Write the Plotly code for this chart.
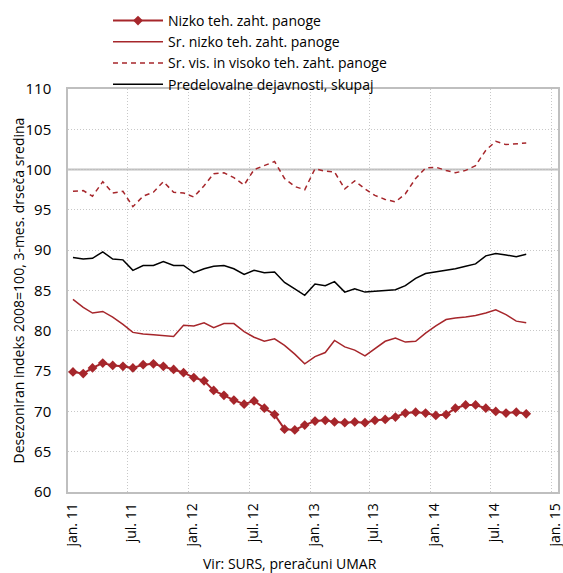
import pandas as pd
import plotly.graph_objects as go

# Monthly data, jan 2011 - okt 2014 (3-month moving average, seasonally adjusted, 2008=100)
months = pd.date_range("2011-01-01", periods=46, freq="MS") + pd.Timedelta(days=15)

nizko = [74.9, 74.7, 75.4, 76.0, 75.7, 75.6, 75.4, 75.8, 75.9, 75.6, 75.2, 74.8,
         74.2, 73.8, 72.6, 72.0, 71.4, 70.9, 71.3, 70.4, 69.6, 67.8, 67.7, 68.3,
         68.8, 68.9, 68.7, 68.6, 68.7, 68.6, 68.9, 69.0, 69.3, 69.8, 69.9, 69.8,
         69.5, 69.6, 70.4, 70.8, 70.8, 70.4, 70.0, 69.8, 69.9, 69.7]

sr_nizko = [83.9, 82.9, 82.2, 82.4, 81.7, 80.8, 79.8, 79.6, 79.5, 79.4, 79.3, 80.7,
            80.6, 81.0, 80.4, 80.9, 80.9, 79.9, 79.2, 78.7, 79.0, 78.2, 77.1, 75.9,
            76.8, 77.3, 78.8, 78.0, 77.6, 76.9, 77.8, 78.7, 79.1, 78.6, 78.7, 79.7,
            80.6, 81.4, 81.6, 81.7, 81.9, 82.2, 82.6, 82.0, 81.2, 81.0]

sr_visoko = [97.3, 97.4, 96.7, 98.5, 97.1, 97.3, 95.4, 96.7, 97.2, 98.5, 97.2, 97.1,
             96.6, 98.0, 99.5, 99.6, 99.0, 98.1, 100.0, 100.5, 101.0, 98.9, 97.9, 97.5,
             100.1, 99.8, 99.7, 97.6, 98.6, 97.6, 96.8, 96.3, 96.0, 97.0, 98.9, 100.2,
             100.3, 99.9, 99.6, 99.9, 100.5, 102.4, 103.5, 103.1, 103.2, 103.3]

predel = [89.1, 88.9, 89.0, 89.8, 88.9, 88.8, 87.5, 88.1, 88.1, 88.6, 88.1, 88.1,
          87.2, 87.7, 88.0, 88.1, 87.7, 87.0, 87.5, 87.2, 87.3, 86.0, 85.2, 84.4,
          85.8, 85.6, 86.1, 84.8, 85.2, 84.8, 84.9, 85.0, 85.1, 85.6, 86.5, 87.1,
          87.3, 87.5, 87.7, 88.0, 88.3, 89.3, 89.6, 89.4, 89.2, 89.5]

tick_vals = pd.date_range("2011-01-01", "2015-01-01", freq="6MS")
tick_text = ["jan. 11", "jul. 11", "jan. 12", "jul. 12", "jan. 13",
             "jul. 13", "jan. 14", "jul. 14", "jan. 15"]

names = ["Nizko teh. zaht. panoge", "Sr. nizko teh. zaht. panoge",
         "Sr. vis. in visoko teh. zaht. panoge", "Predelovalne dejavnosti, skupaj"]

RED = "#a6262b"
FONT = "Open Sans"

fig = go.Figure()
fig.add_trace(go.Scatter(x=months, y=nizko, name=names[0], mode="lines+markers",
                         line=dict(color=RED, width=2),
                         marker=dict(symbol="diamond", size=7.5, color=RED)))
fig.add_trace(go.Scatter(x=months, y=sr_nizko, name=names[1], mode="lines",
                         line=dict(color=RED, width=1.5)))
fig.add_trace(go.Scatter(x=months, y=sr_visoko, name=names[2], mode="lines",
                         line=dict(color=RED, width=1.5, dash="5px,4px")))
fig.add_trace(go.Scatter(x=months, y=predel, name=names[3], mode="lines",
                         line=dict(color="black", width=1.5)))

fig.add_shape(type="line", xref="paper", x0=0, x1=1, yref="y", y0=100, y1=100,
              line=dict(color="#bfbfbf", width=2), layer="below")

PH = 573 - 89 - 81
PW = 563 - 68 - 5

fig.update_layout(
    width=563, height=573,
    margin=dict(l=68, r=5, t=89, b=81, autoexpand=False),
    paper_bgcolor="white", plot_bgcolor="white",
    font=dict(family=FONT, size=14, color="black"),
    showlegend=True,
    legend=dict(xref="container", yref="container",
                x=108 / 563, xanchor="left", y=1 - 5 / 573, yanchor="top",
                bgcolor="rgba(0,0,0,0)", font=dict(size=14),
                itemwidth=50, tracegroupgap=0),
    xaxis=dict(range=["2011-01-01", "2015-01-20"], tickvals=tick_vals, ticktext=tick_text,
               tickangle=-90, showgrid=True, gridcolor="#c8c8c8", griddash="1px,2px",
               showline=True, linecolor="#bfbfbf", linewidth=1.5, mirror=True,
               ticks="outside", ticklen=4, tickcolor="rgba(0,0,0,0)", ticklabelshift=4,
               ticklabeloverflow="allow", tickfont=dict(size=14), zeroline=False),
    yaxis=dict(range=[60, 110], dtick=5, showgrid=True, gridcolor="#c8c8c8",
               griddash="1px,2px", showline=True, linecolor="#bfbfbf", linewidth=1.5,
               mirror=True, ticks="outside", ticklen=12, tickcolor="rgba(0,0,0,0)",
               tickfont=dict(size=15), zeroline=False),
    annotations=[
        dict(text="Desezoniran indeks 2008=100, 3-mes. drseča sredina",
             xref="paper", yref="paper", x=(18 - 68) / PW, y=0.5, textangle=-90,
             xanchor="center", yanchor="middle", showarrow=False, font=dict(size=14)),
        dict(text="Vir: SURS, preračuni UMAR", xref="paper", yref="paper",
             x=(290 - 68) / PW, y=(492 - 563) / PH, xanchor="center",
             yanchor="middle", showarrow=False, font=dict(size=14)),
    ],
)

fig.write_html("out.html", config={"displayModeBar": False},
               post_script="document.body.style.margin='0px';")
